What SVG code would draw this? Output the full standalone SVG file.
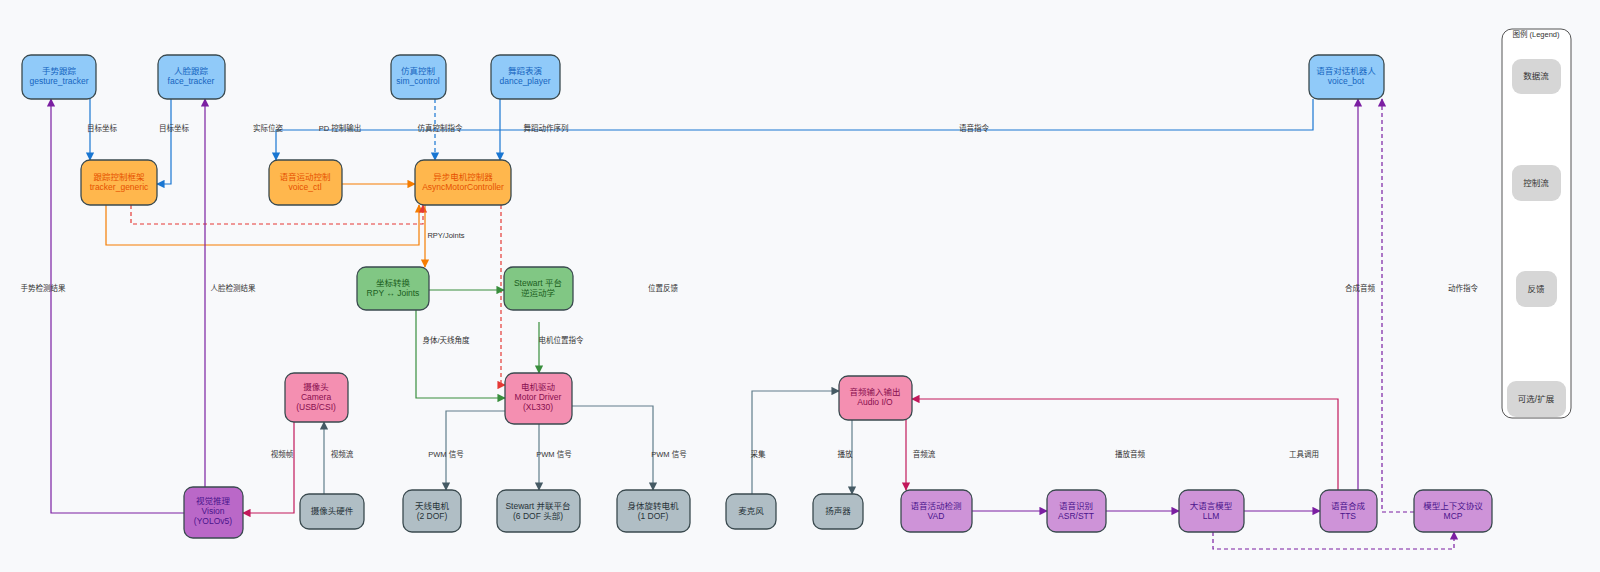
<svg xmlns="http://www.w3.org/2000/svg" width="1600" height="572" viewBox="0 0 1600 572">
<style>
text{font-family:"Liberation Sans","Noto Sans CJK SC",sans-serif;font-size:8.5px;text-anchor:middle}
.n rect{stroke:#3a4a4f;stroke-width:1.3}
.b rect{fill:#90CAF9}.b text{fill:#1565C0}
.o rect{fill:#FFB74D}.o text{fill:#E65100}
.g rect{fill:#81C784}.g text{fill:#1B5E20}
.p rect{fill:#F48FB1}.p text{fill:#880E4F}
.s rect{fill:#B0BEC5}.s text{fill:#263238}
.v rect{fill:#CE93D8}.v text{fill:#4A148C}
.vv rect{fill:#BA68C8}.vv text{fill:#4A148C}
.lg rect{fill:#d6d6d6;stroke:none}.lg text{fill:#333}
.e path{fill:none;stroke-width:1.2}
.lb{fill:#333;font-size:7.5px}
</style>
<defs>
<marker id="ab" viewBox="0 0 10 10" refX="9" refY="5" markerWidth="7" markerHeight="7" orient="auto-start-reverse"><path d="M0,0L10,5L0,10z" fill="#1976D2"/></marker>
<marker id="ao" viewBox="0 0 10 10" refX="9" refY="5" markerWidth="7" markerHeight="7" orient="auto-start-reverse"><path d="M0,0L10,5L0,10z" fill="#F57C00"/></marker>
<marker id="ar" viewBox="0 0 10 10" refX="9" refY="5" markerWidth="7" markerHeight="7" orient="auto-start-reverse"><path d="M0,0L10,5L0,10z" fill="#E53935"/></marker>
<marker id="ag" viewBox="0 0 10 10" refX="9" refY="5" markerWidth="7" markerHeight="7" orient="auto-start-reverse"><path d="M0,0L10,5L0,10z" fill="#388E3C"/></marker>
<marker id="ay" viewBox="0 0 10 10" refX="9" refY="5" markerWidth="7" markerHeight="7" orient="auto-start-reverse"><path d="M0,0L10,5L0,10z" fill="#455A64"/></marker>
<marker id="ap" viewBox="0 0 10 10" refX="9" refY="5" markerWidth="7" markerHeight="7" orient="auto-start-reverse"><path d="M0,0L10,5L0,10z" fill="#C2185B"/></marker>
<marker id="av" viewBox="0 0 10 10" refX="9" refY="5" markerWidth="7" markerHeight="7" orient="auto-start-reverse"><path d="M0,0L10,5L0,10z" fill="#7B1FA2"/></marker>
</defs>
<rect width="1600" height="572" fill="#f8f9fb"/>
<g id="connectors" class="e">
<path d="M90,99V160" stroke="#1976D2" marker-end="url(#ab)"/>
<path d="M171,99V184H157" stroke="#1976D2" marker-end="url(#ab)"/>
<path d="M1313,99V130H276V160" stroke="#1976D2" marker-end="url(#ab)"/>
<path d="M435,99V160" stroke="#1976D2" stroke-dasharray="4,3" marker-end="url(#ab)"/>
<path d="M500,99V160" stroke="#1976D2" marker-end="url(#ab)"/>
<path d="M342,184H415" stroke="#F57C00" marker-end="url(#ao)"/>
<path d="M106,205V245H419V205" stroke="#F57C00" marker-end="url(#ao)"/>
<path d="M131,205V224H423V205" stroke="#E53935" stroke-dasharray="4,3" marker-end="url(#ar)"/>
<path d="M425,205V267" stroke="#F57C00" marker-end="url(#ao)"/>
<path d="M501,205V385H505" stroke="#E53935" stroke-dasharray="4,3" marker-end="url(#ar)"/>
<path d="M429,290H504" stroke="#388E3C" marker-end="url(#ag)"/>
<path d="M416,310V398H505" stroke="#388E3C" marker-end="url(#ag)"/>
<path d="M539,322V373" stroke="#388E3C" marker-end="url(#ag)"/>
<path d="M505,411H446V490" stroke="#607D8B" marker-end="url(#ay)"/>
<path d="M539,424V490" stroke="#607D8B" marker-end="url(#ay)"/>
<path d="M572,406H653V490" stroke="#607D8B" marker-end="url(#ay)"/>
<path d="M294,422V513H243" stroke="#C2185B" marker-end="url(#ap)"/>
<path d="M324,494V422" stroke="#607D8B" marker-end="url(#ay)"/>
<path d="M184,513H51V99" stroke="#7B1FA2" marker-end="url(#av)"/>
<path d="M205,487V99" stroke="#7B1FA2" marker-end="url(#av)"/>
<path d="M752,494V391H839" stroke="#607D8B" marker-end="url(#ay)"/>
<path d="M852,420V494" stroke="#607D8B" marker-end="url(#ay)"/>
<path d="M906,420V490" stroke="#C2185B" marker-end="url(#ap)"/>
<path d="M972,511H1047" stroke="#7B1FA2" marker-end="url(#av)"/>
<path d="M1106,511H1179" stroke="#7B1FA2" marker-end="url(#av)"/>
<path d="M1244,511H1320" stroke="#7B1FA2" marker-end="url(#av)"/>
<path d="M1338,490V399H912" stroke="#C2185B" marker-end="url(#ap)"/>
<path d="M1358,490V99" stroke="#7B1FA2" marker-end="url(#av)"/>
<path d="M1414,512H1382V99" stroke="#7B1FA2" stroke-dasharray="4,3" marker-end="url(#av)"/>
<path d="M1213,532V549H1454V532" stroke="#7B1FA2" stroke-dasharray="4,3" marker-end="url(#av)"/>
</g>
<g id="labels">
<text class="lb" x="102" y="131">目标坐标</text>
<text class="lb" x="174" y="131">目标坐标</text>
<text class="lb" x="268" y="131">实际位姿</text>
<text class="lb" x="340" y="131">PD 控制输出</text>
<text class="lb" x="440" y="131">仿真控制指令</text>
<text class="lb" x="546" y="131">舞蹈动作序列</text>
<text class="lb" x="974" y="131">语音指令</text>
<text class="lb" x="446" y="238">RPY/Joints</text>
<text class="lb" x="43" y="291">手势检测结果</text>
<text class="lb" x="233" y="291">人脸检测结果</text>
<text class="lb" x="663" y="291">位置反馈</text>
<text class="lb" x="1360" y="291">合成音频</text>
<text class="lb" x="1463" y="291">动作指令</text>
<text class="lb" x="446" y="343">身体/天线角度</text>
<text class="lb" x="561" y="343">电机位置指令</text>
<text class="lb" x="282" y="457">视频帧</text>
<text class="lb" x="342" y="457">视频流</text>
<text class="lb" x="446" y="457">PWM 信号</text>
<text class="lb" x="554" y="457">PWM 信号</text>
<text class="lb" x="669" y="457">PWM 信号</text>
<text class="lb" x="758" y="457">采集</text>
<text class="lb" x="845" y="457">播放</text>
<text class="lb" x="924" y="457">音频流</text>
<text class="lb" x="1130" y="457">播放音频</text>
<text class="lb" x="1304" y="457">工具调用</text>
</g>
<g id="gesture" class="n b"><rect x="22" y="55" width="74" height="44" rx="9"/><text x="59" y="74">手势跟踪</text><text x="59" y="84">gesture_tracker</text></g>
<g id="face" class="n b"><rect x="158" y="55" width="67" height="44" rx="9"/><text x="191" y="74">人脸跟踪</text><text x="191" y="84">face_tracker</text></g>
<g id="sim" class="n b"><rect x="391" y="55" width="55" height="44" rx="9"/><text x="418" y="74">仿真控制</text><text x="418" y="84">sim_control</text></g>
<g id="dance" class="n b"><rect x="491" y="55" width="69" height="44" rx="9"/><text x="525" y="74">舞蹈表演</text><text x="525" y="84">dance_player</text></g>
<g id="voicebot" class="n b"><rect x="1309" y="55" width="75" height="44" rx="9"/><text x="1346" y="74">语音对话机器人</text><text x="1346" y="84">voice_bot</text></g>
<g id="tracker" class="n o"><rect x="81" y="160" width="76" height="45" rx="9"/><text x="119" y="180">跟踪控制框架</text><text x="119" y="190">tracker_generic</text></g>
<g id="voicectl" class="n o"><rect x="269" y="160" width="73" height="45" rx="9"/><text x="305" y="180">语音运动控制</text><text x="305" y="190">voice_ctl</text></g>
<g id="async" class="n o"><rect x="415" y="160" width="96" height="45" rx="9"/><text x="463" y="180">异步电机控制器</text><text x="463" y="190">AsyncMotorController</text></g>
<g id="coord" class="n g"><rect x="357" y="267" width="72" height="43" rx="9"/><text x="393" y="286">坐标转换</text><text x="393" y="296">RPY ↔ Joints</text></g>
<g id="stewartik" class="n g"><rect x="504" y="267" width="69" height="43" rx="9"/><text x="538" y="286">Stewart 平台</text><text x="538" y="296">逆运动学</text></g>
<g id="motor" class="n p"><rect x="505" y="373" width="67" height="51" rx="9"/><text x="538" y="390">电机驱动</text><text x="538" y="400">Motor Driver</text><text x="538" y="410">(XL330)</text></g>
<g id="camera" class="n p"><rect x="285" y="373" width="63" height="49" rx="9"/><text x="316" y="390">摄像头</text><text x="316" y="400">Camera</text><text x="316" y="410">(USB/CSI)</text></g>
<g id="audio" class="n p"><rect x="839" y="376" width="73" height="44" rx="9"/><text x="875" y="395">音频输入输出</text><text x="875" y="405">Audio I/O</text></g>
<g id="vision" class="n vv"><rect x="184" y="487" width="59" height="51" rx="9"/><text x="213" y="504">视觉推理</text><text x="213" y="514">Vision</text><text x="213" y="524">(YOLOv5)</text></g>
<g id="camhw" class="n s"><rect x="300" y="494" width="64" height="35" rx="9"/><text x="332" y="514">摄像头硬件</text></g>
<g id="antenna" class="n s"><rect x="403" y="490" width="58" height="42" rx="9"/><text x="432" y="509">天线电机</text><text x="432" y="519">(2 DOF)</text></g>
<g id="platform" class="n s"><rect x="497" y="490" width="83" height="42" rx="9"/><text x="538" y="509">Stewart 并联平台</text><text x="538" y="519">(6 DOF 头部)</text></g>
<g id="body" class="n s"><rect x="617" y="490" width="73" height="42" rx="9"/><text x="653" y="509">身体旋转电机</text><text x="653" y="519">(1 DOF)</text></g>
<g id="mic" class="n s"><rect x="726" y="494" width="50" height="35" rx="9"/><text x="751" y="514">麦克风</text></g>
<g id="speaker" class="n s"><rect x="813" y="494" width="50" height="35" rx="9"/><text x="838" y="514">扬声器</text></g>
<g id="vad" class="n v"><rect x="901" y="490" width="71" height="42" rx="9"/><text x="936" y="509">语音活动检测</text><text x="936" y="519">VAD</text></g>
<g id="asr" class="n v"><rect x="1047" y="490" width="59" height="42" rx="9"/><text x="1076" y="509">语音识别</text><text x="1076" y="519">ASR/STT</text></g>
<g id="llm" class="n v"><rect x="1179" y="490" width="65" height="42" rx="9"/><text x="1211" y="509">大语言模型</text><text x="1211" y="519">LLM</text></g>
<g id="tts" class="n v"><rect x="1320" y="490" width="57" height="42" rx="9"/><text x="1348" y="509">语音合成</text><text x="1348" y="519">TTS</text></g>
<g id="mcp" class="n v"><rect x="1414" y="490" width="78" height="42" rx="9"/><text x="1453" y="509">模型上下文协议</text><text x="1453" y="519">MCP</text></g>
<g id="legend">
<rect x="1502" y="29" width="69" height="389" rx="10" fill="#fff" stroke="#555" stroke-width="1"/>
<text x="1536" y="37" class="lb">图例 (Legend)</text>
<g class="lg"><rect x="1512" y="59" width="49" height="35" rx="9"/><text x="1536" y="79">数据流</text></g>
<g class="lg"><rect x="1512" y="165" width="49" height="36" rx="9"/><text x="1536" y="186">控制流</text></g>
<g class="lg"><rect x="1516" y="271" width="41" height="36" rx="9"/><text x="1536" y="292">反馈</text></g>
<g class="lg"><rect x="1507" y="381" width="59" height="36" rx="9"/><text x="1536" y="402">可选/扩展</text></g>
</g>
</svg>
